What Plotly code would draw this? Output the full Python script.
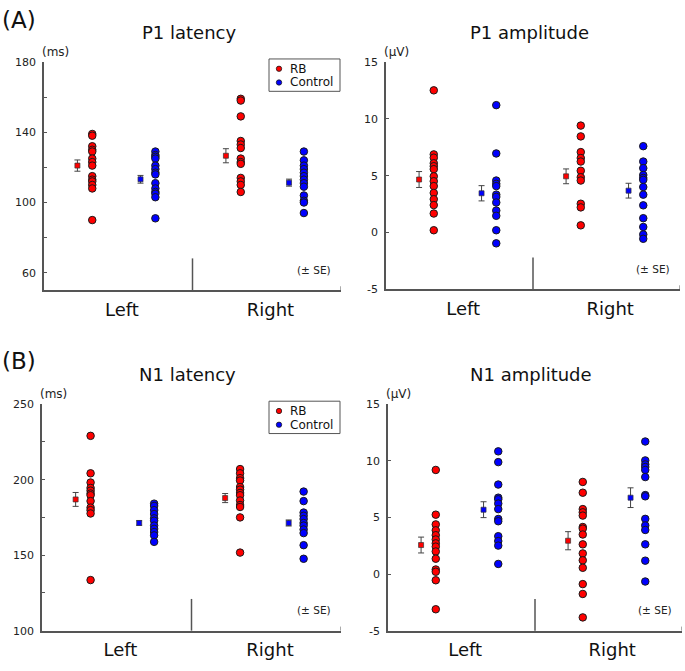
import plotly.graph_objects as go

# ---------------- data ----------------
sides = ["Left", "Right"]
groups = ["RB", "Control"]

# P1 latency (ms)
p1_lat_rb_left = [139, 138, 132, 130, 129, 125, 123, 121, 115, 113, 112, 110, 108, 90]
p1_lat_ctrl_left = [129, 127, 126, 125, 121, 119, 117, 116, 111, 108, 106, 105, 103, 91]
p1_lat_rb_right = [159, 158, 149, 135, 133, 131, 125, 123, 122, 114, 112, 110, 106]
p1_lat_ctrl_right = [129, 124, 121, 119, 117, 115, 113, 111, 109, 104, 101, 100, 94]
p1_lat_mean = [121.0, 113.2, 126.6, 111.3]   # RB-L, Ctrl-L, RB-R, Ctrl-R
p1_lat_se = [3.2, 2.2, 4.0, 2.0]

# P1 amplitude (uV)
p1_amp_rb_left = [12.5, 6.87, 6.58, 6.09, 5.83, 5.57, 4.94, 4.51, 4.08, 3.48, 2.93, 2.41, 1.67, 0.2]
p1_amp_ctrl_left = [11.2, 6.95, 4.57, 4.28, 4.08, 3.33, 3.13, 2.64, 1.93, 1.47, 0.2, -0.95]
p1_amp_rb_right = [9.40, 8.45, 7.07, 6.55, 6.24, 5.43, 4.86, 4.57, 2.53, 2.21, 0.63]
p1_amp_ctrl_right = [7.59, 6.24, 5.66, 5.06, 4.80, 4.63, 4.00, 3.33, 2.39, 1.26, 0.49, -0.17, -0.55]
p1_amp_mean = [4.66, 3.45, 4.94, 3.68]
p1_amp_se = [0.70, 0.67, 0.65, 0.65]

# N1 latency (ms)
n1_lat_rb_left = [229.0, 204.2, 198.1, 194.5, 192.7, 190.8, 189.7, 185.8, 181.5, 179.8, 177.6, 133.5]
n1_lat_ctrl_left = [184.1, 182.6, 179.8, 177.2, 174.4, 172.8, 169.6, 167.4, 165.3, 163.1, 158.8]
n1_lat_rb_right = [207.0, 204.2, 201.0, 199.4, 195.1, 193.4, 191.2, 189.7, 186.2, 183.2, 181.9, 175.0, 151.7]
n1_lat_ctrl_right = [192.1, 185.8, 178.2, 176.1, 173.9, 171.3, 169.6, 167.0, 164.6, 156.6, 147.6]
n1_lat_mean = [186.9, 171.3, 187.8, 171.3]
n1_lat_se = [4.6, 1.5, 3.0, 2.0]

# N1 amplitude (uV)
n1_amp_rb_left = [9.19, 5.24, 4.38, 3.86, 3.43, 3.05, 2.71, 2.42, 1.99, 1.35, 0.40, 0.20, -0.55, -3.11]
n1_amp_ctrl_left = [10.83, 9.88, 7.90, 6.74, 6.60, 6.22, 5.73, 4.86, 4.66, 3.34, 2.91, 2.51, 0.89]
n1_amp_rb_right = [8.13, 7.18, 5.73, 5.45, 5.16, 4.15, 4.01, 3.49, 2.62, 1.82, 1.21, 0.55, -0.89, -1.76, -3.83]
n1_amp_ctrl_right = [11.70, 10.03, 9.68, 9.45, 9.19, 8.56, 6.97, 6.86, 4.87, 4.29, 3.89, 2.62, 1.18, -0.66]
n1_amp_mean = [2.56, 5.68, 2.94, 6.74]
n1_amp_se = [0.70, 0.70, 0.80, 0.87]

lat_p1_ticks = [60, 80, 100, 120, 140, 160, 180]
lat_p1_labels = ["60", "", "100", "", "140", "", "180"]
lat_n1_ticks = [100, 125, 150, 175, 200, 225, 250]
lat_n1_labels = ["100", "", "150", "", "200", "", "250"]
amp_ticks = [-5, 0, 5, 10, 15]
amp_labels = ["-5", "0", "5", "10", "15"]

# ---------------- layout helpers ----------------
W, H = 685, 671
RED, BLUE = "#ff0000", "#0000ff"
AXC = "#555555"
FONT = "DejaVu Sans, Verdana, sans-serif"
colors = [RED, BLUE]


def dx(a, b):
    return [a / W, b / W]


def dy(top, bot):
    return [1 - bot / H, 1 - top / H]


panels = [
    dict(title="P1 latency", unit="(ms)", rng=[50, 180], tv=lat_p1_ticks, tt=lat_p1_labels,
         xd=(44, 341), yd=(57, 290),
         dots=[[p1_lat_rb_left, p1_lat_ctrl_left], [p1_lat_rb_right, p1_lat_ctrl_right]],
         mean=p1_lat_mean, se=p1_lat_se, legend=True),
    dict(title="P1 amplitude", unit="(μV)", rng=[-5, 15], tv=amp_ticks, tt=amp_labels,
         xd=(386, 680), yd=(57, 289),
         dots=[[p1_amp_rb_left, p1_amp_ctrl_left], [p1_amp_rb_right, p1_amp_ctrl_right]],
         mean=p1_amp_mean, se=p1_amp_se, legend=False),
    dict(title="N1 latency", unit="(ms)", rng=[100, 250], tv=lat_n1_ticks, tt=lat_n1_labels,
         xd=(42, 341), yd=(406, 637),
         dots=[[n1_lat_rb_left, n1_lat_ctrl_left], [n1_lat_rb_right, n1_lat_ctrl_right]],
         mean=n1_lat_mean, se=n1_lat_se, legend=True),
    dict(title="N1 amplitude", unit="(μV)", rng=[-5, 15], tv=amp_ticks, tt=amp_labels,
         xd=(388, 682), yd=(406, 637),
         dots=[[n1_amp_rb_left, n1_amp_ctrl_left], [n1_amp_rb_right, n1_amp_ctrl_right]],
         mean=n1_amp_mean, se=n1_amp_se, legend=False),
]

dot_off = [0.65, 1.5]
mean_off = [0.45, 1.3]

fig = go.Figure()
annotations = []
shapes = []

for i, p in enumerate(panels):
    n = "" if i == 0 else str(i + 1)
    xa, ya = "x" + n, "y" + n
    for s in range(2):
        for g in range(2):
            vals = p["dots"][s][g]
            fig.add_trace(go.Scatter(
                x=[2 * s + dot_off[g]] * len(vals), y=vals, mode="markers",
                marker=dict(symbol="circle", size=7.5, color=colors[g],
                            line=dict(color="#1a1a1a", width=1)),
                xaxis=xa, yaxis=ya, showlegend=False, hoverinfo="y"))
            k = 2 * s + g
            fig.add_trace(go.Scatter(
                x=[2 * s + mean_off[g]], y=[p["mean"][k]], mode="markers",
                marker=dict(symbol="square", size=5, color=colors[g],
                            line=dict(color="#333333", width=0.7)),
                error_y=dict(type="data", array=[p["se"][k]], color="#444444",
                             thickness=1, width=3),
                xaxis=xa, yaxis=ya, showlegend=False, hoverinfo="y"))

    x0, x1 = p["xd"]
    top, bot = p["yd"]
    fig.layout["xaxis" + n] = dict(
        domain=dx(x0, x1), range=[0, 4], anchor=ya, showgrid=False, zeroline=False,
        showline=True, linecolor=AXC, linewidth=1.5,
        tickvals=[1.05, 3.05], ticktext=sides, ticks="outside", ticklen=2,
        tickcolor="rgba(0,0,0,0)", tickfont=dict(size=18, color="#111", family=FONT),
        fixedrange=True)
    fig.layout["yaxis" + n] = dict(
        domain=dy(top, bot), range=p["rng"], anchor=xa, showgrid=False, zeroline=False,
        showline=True, linecolor=AXC, linewidth=1.5,
        tickvals=p["tv"], ticktext=p["tt"], ticks="inside", ticklen=3, tickwidth=1,
        tickcolor=AXC, ticklabelstandoff=4,
        tickfont=dict(size=11, color="#222", family=FONT),
        fixedrange=True)

    # divider between Left and Right and small end tick
    shapes.append(dict(type="line", xref=xa, yref=ya + " domain", x0=2, x1=2, y0=0, y1=0.14,
                       line=dict(color=AXC, width=1.5)))
    shapes.append(dict(type="line", xref=xa, yref=ya + " domain", x0=4, x1=4, y0=0, y1=0.018,
                       line=dict(color=AXC, width=1)))

    cx = (x0 + x1) / 2 - 4
    annotations.append(dict(text=p["title"], x=cx / W, y=1 - (top - 30) / H, xref="paper",
                            yref="paper", showarrow=False, xanchor="center", yanchor="middle",
                            font=dict(size=18, color="#111", family=FONT)))
    annotations.append(dict(text=p["unit"], x=(x0 - 4) / W, y=1 - (top - 10) / H, xref="paper",
                            yref="paper", showarrow=False, xanchor="left", yanchor="middle",
                            font=dict(size=12, color="#222", family=FONT)))
    annotations.append(dict(text="(± SE)", x=(x1 - 8) / W, y=1 - (bot - 21) / H, xref="paper",
                            yref="paper", showarrow=False, xanchor="right", yanchor="middle",
                            font=dict(size=10.5, color="#222", family=FONT)))

    if p["legend"]:
        lx0, lx1, ly0, ly1 = 269, 340, top - 3, top + 30
        shapes.append(dict(type="rect", xref="paper", yref="paper",
                           x0=lx0 / W, x1=lx1 / W, y0=1 - ly1 / H, y1=1 - ly0 / H,
                           line=dict(color="#555555", width=1), fillcolor="white"))
        for g, name in enumerate(groups):
            yy = ly0 + 10 + 14 * g
            r = 2.7
            shapes.append(dict(type="circle", xref="paper", yref="paper",
                               x0=(279 - r) / W, x1=(279 + r) / W,
                               y0=1 - (yy + r) / H, y1=1 - (yy - r) / H,
                               fillcolor=colors[g], line=dict(color="#1a1a1a", width=0.8)))
            annotations.append(dict(text=name, x=288 / W, y=1 - yy / H, xref="paper",
                                    yref="paper", showarrow=False, xanchor="left",
                                    yanchor="middle",
                                    font=dict(size=12, color="#111", family=FONT)))

annotations.append(dict(text="(A)", x=0, y=1 - 14 / H, xref="paper", yref="paper",
                        showarrow=False, xanchor="left", yanchor="middle",
                        font=dict(size=23, color="#111", family=FONT)))
annotations.append(dict(text="(B)", x=0, y=1 - 362 / H, xref="paper", yref="paper",
                        showarrow=False, xanchor="left", yanchor="middle",
                        font=dict(size=23, color="#111", family=FONT)))

fig.update_layout(
    width=W, height=H, margin=dict(l=0, r=0, t=0, b=0),
    paper_bgcolor="white", plot_bgcolor="white",
    showlegend=False, annotations=annotations, shapes=shapes,
    font=dict(family=FONT),
)

fig.write_html("out.html", config={"displayModeBar": False},
               post_script="document.body.style.margin='0';document.body.style.overflow='hidden';")
